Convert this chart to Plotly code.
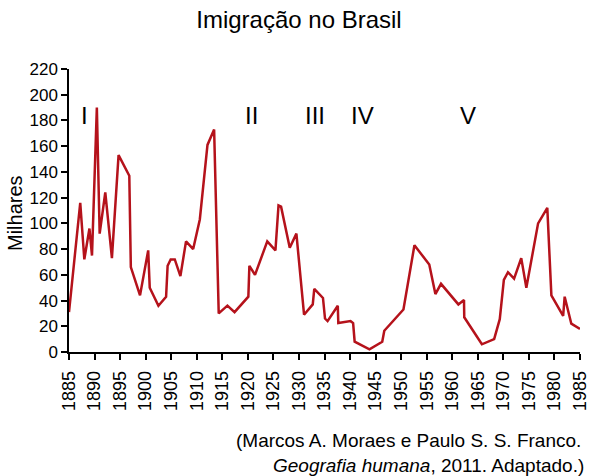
import plotly.graph_objects as go

years = [1885, 1887.2, 1888.0, 1889.0, 1889.5, 1890.45, 1891.0, 1892.1, 1893.4, 1894.7,
         1896.8, 1897.1, 1898.9, 1900.5, 1900.8, 1902.5, 1904.0, 1904.3, 1904.9, 1905.7,
         1906.8, 1907.9, 1909.3, 1910.6, 1912.1, 1913.4, 1914.3, 1916.0, 1917.4, 1920.1,
         1920.3, 1921.4, 1923.8, 1925.4, 1926.0, 1926.5, 1928.2, 1929.5, 1931.0, 1932.7,
         1933.0, 1934.7, 1935.1, 1935.6, 1937.6, 1937.7, 1940.1, 1940.6, 1940.9, 1943.8,
         1946.3, 1946.7, 1950.45, 1952.6, 1955.5, 1956.7, 1957.8, 1961.2, 1962.3, 1962.35,
         1965.8, 1968.2, 1969.3, 1970.1, 1970.9, 1972.1, 1973.5, 1974.5, 1976.8, 1978.6,
         1979.4, 1981.7, 1982.0, 1983.3, 1985]
milhares = [31, 116, 72, 96, 75, 190, 92, 124, 73, 153,
            137, 66, 44, 79, 50, 36, 43, 67, 72, 72,
            59, 86, 80, 103, 161, 173, 30, 36, 31, 43,
            67, 60, 86, 79, 114, 113, 81, 92, 29, 37,
            49, 42, 26, 24, 36, 22.5, 24, 22.5, 8, 2,
            8, 16.5, 33, 83, 68, 45, 53, 37, 40.5, 27,
            6, 10, 25.5, 56, 62, 57, 73, 50, 100, 112,
            44, 28, 43, 22, 18]

periodos = ["I", "II", "III", "IV", "V"]
periodos_x = [1888, 1920.8, 1933.1, 1942.4, 1963.1]
periodos_y = [184, 184, 184, 184, 184]

FONT = "Liberation Sans, Arial, sans-serif"

W, H = 593, 476
L, R, T, B = 69, 13, 69, 124
PW, PH = W - L - R, H - T - B


def px(x):
    return (x - L) / PW


def py(y):
    return (T + PH - y) / PH


fig = go.Figure()
fig.add_trace(go.Scatter(x=years, y=milhares, mode="lines",
                         line=dict(color="#B5121B", width=2.5),
                         showlegend=False, hoverinfo="skip"))

for t, x, y in zip(periodos, periodos_x, periodos_y):
    fig.add_annotation(x=x, y=y, text=t, showarrow=False, xref="x", yref="y",
                       xanchor="center", yanchor="middle",
                       font=dict(size=24, color="black", family=FONT))

fig.add_annotation(x=px(15), y=py(213), xref="paper", yref="paper",
                   xanchor="center", yanchor="middle",
                   text="Milhares", textangle=-90, showarrow=False,
                   font=dict(size=20, color="black", family=FONT))

fig.add_annotation(x=px(234), y=py(440), xref="paper", yref="paper",
                   xanchor="left", yanchor="middle", showarrow=False,
                   text="(Marcos A. Moraes e Paulo S. S. Franco.",
                   font=dict(size=19, color="black", family=FONT))
fig.add_annotation(x=px(271), y=py(465), xref="paper", yref="paper",
                   xanchor="left", yanchor="middle", showarrow=False,
                   text="<i>Geografia humana</i>, 2011. Adaptado.)",
                   font=dict(size=19, color="black", family=FONT))

fig.update_layout(
    width=W, height=H,
    margin=dict(l=L, r=R, t=T, b=B, autoexpand=False),
    paper_bgcolor="white", plot_bgcolor="white",
    font=dict(family=FONT, color="black"),
    title=dict(text="Imigração no Brasil", x=299 / W, xanchor="center",
               y=1 - 20 / H, yanchor="middle", yref="container", xref="container",
               font=dict(size=24, color="black", family=FONT)),
    xaxis=dict(range=[1885, 1985], tickmode="linear", tick0=1885, dtick=5,
               showgrid=False, zeroline=False, showline=True, linecolor="black", linewidth=1.5,
               ticks="outside", ticklen=6, tickcolor="black", tickwidth=1.5,
               tickangle=-90, tickfont=dict(size=18, color="black", family=FONT),
               ticklabelstandoff=4, automargin=False),
    yaxis=dict(range=[0, 220], tickmode="linear", tick0=0, dtick=20,
               showgrid=False, zeroline=False, showline=True, linecolor="black", linewidth=1.5,
               ticks="outside", ticklen=6, tickcolor="black", tickwidth=1.5,
               tickfont=dict(size=17, color="black", family=FONT), automargin=False),
)

fig.write_html("out.html", config={"displayModeBar": False},
               post_script="document.body.style.margin='0';")
